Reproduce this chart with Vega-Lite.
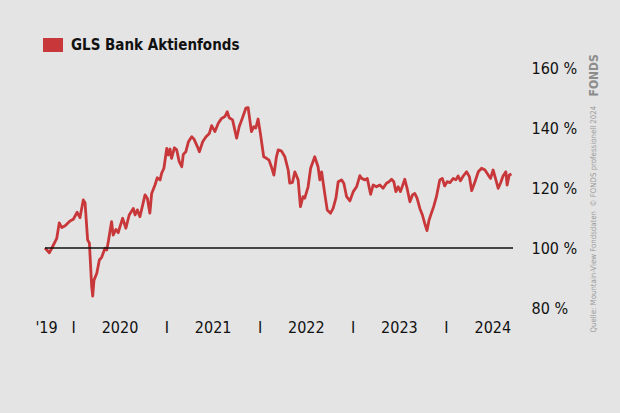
{
  "$schema": "https://vega.github.io/schema/vega-lite/v6.json",
  "width": 468,
  "height": 240,
  "autosize": "none",
  "padding": {"left": 45, "top": 68, "right": 107, "bottom": 105},
  "background": "#e4e4e4",
  "config": {"view": {"stroke": null}, "font": "DejaVu Sans Condensed, Roboto, sans-serif"},
  "layer": [
    {
      "data": {"values": [
        {"d": "2019-09-13", "v": 100}, {"d": "2019-09-30", "v": 98.4}, {"d": "2019-10-16", "v": 101}, {"d": "2019-10-29", "v": 103.2},
        {"d": "2019-11-08", "v": 108.4}, {"d": "2019-11-18", "v": 106.8}, {"d": "2019-12-01", "v": 107.4}, {"d": "2019-12-20", "v": 109},
        {"d": "2020-01-02", "v": 109.6}, {"d": "2020-01-17", "v": 111.9}, {"d": "2020-01-28", "v": 110.1}, {"d": "2020-02-10", "v": 116},
        {"d": "2020-02-17", "v": 115.1}, {"d": "2020-02-27", "v": 102.7}, {"d": "2020-03-05", "v": 101.6}, {"d": "2020-03-14", "v": 87.1},
        {"d": "2020-03-18", "v": 84}, {"d": "2020-03-23", "v": 89.3}, {"d": "2020-04-03", "v": 91.6}, {"d": "2020-04-13", "v": 96},
        {"d": "2020-04-22", "v": 96.9}, {"d": "2020-05-05", "v": 99.9}, {"d": "2020-05-12", "v": 99.3}, {"d": "2020-05-18", "v": 102.1},
        {"d": "2020-05-31", "v": 108.8}, {"d": "2020-06-06", "v": 104.3}, {"d": "2020-06-17", "v": 106.2}, {"d": "2020-06-26", "v": 105.1},
        {"d": "2020-07-03", "v": 107.1}, {"d": "2020-07-13", "v": 109.9}, {"d": "2020-07-26", "v": 106.6}, {"d": "2020-08-08", "v": 111},
        {"d": "2020-08-24", "v": 113.2}, {"d": "2020-08-31", "v": 111}, {"d": "2020-09-09", "v": 112.7}, {"d": "2020-09-19", "v": 110.4},
        {"d": "2020-10-09", "v": 117.7}, {"d": "2020-10-18", "v": 116.6}, {"d": "2020-10-28", "v": 111.6}, {"d": "2020-11-04", "v": 118.2},
        {"d": "2020-11-17", "v": 121}, {"d": "2020-11-26", "v": 123.4}, {"d": "2020-12-07", "v": 122.7}, {"d": "2020-12-13", "v": 124.9},
        {"d": "2020-12-22", "v": 126.6}, {"d": "2021-01-02", "v": 133.2}, {"d": "2021-01-08", "v": 131}, {"d": "2021-01-15", "v": 133},
        {"d": "2021-01-21", "v": 129.9}, {"d": "2021-02-01", "v": 133.4}, {"d": "2021-02-10", "v": 132.7}, {"d": "2021-02-20", "v": 128.8},
        {"d": "2021-03-02", "v": 127.1}, {"d": "2021-03-08", "v": 131.2}, {"d": "2021-03-18", "v": 132.1}, {"d": "2021-03-28", "v": 135.4},
        {"d": "2021-04-10", "v": 137.1}, {"d": "2021-04-19", "v": 136.3}, {"d": "2021-05-02", "v": 133.8}, {"d": "2021-05-10", "v": 132.1},
        {"d": "2021-05-23", "v": 135.4}, {"d": "2021-06-05", "v": 137.1}, {"d": "2021-06-18", "v": 138.2}, {"d": "2021-06-27", "v": 140.8},
        {"d": "2021-07-10", "v": 138.8}, {"d": "2021-07-23", "v": 141.6}, {"d": "2021-08-05", "v": 143.2}, {"d": "2021-08-18", "v": 143.8},
        {"d": "2021-08-27", "v": 145.4}, {"d": "2021-09-04", "v": 143.4}, {"d": "2021-09-17", "v": 142.7}, {"d": "2021-10-03", "v": 136.6},
        {"d": "2021-10-13", "v": 140.4}, {"d": "2021-10-26", "v": 143.4}, {"d": "2021-11-08", "v": 146.6}, {"d": "2021-11-17", "v": 146.8},
        {"d": "2021-11-30", "v": 138.8}, {"d": "2021-12-09", "v": 140.4}, {"d": "2021-12-17", "v": 140}, {"d": "2021-12-26", "v": 143},
        {"d": "2022-01-04", "v": 138.2}, {"d": "2022-01-17", "v": 130.4}, {"d": "2022-01-28", "v": 129.9}, {"d": "2022-02-07", "v": 129.3},
        {"d": "2022-02-16", "v": 127.1}, {"d": "2022-02-26", "v": 124.3}, {"d": "2022-03-08", "v": 130.4}, {"d": "2022-03-15", "v": 132.7},
        {"d": "2022-03-28", "v": 132.3}, {"d": "2022-04-10", "v": 130.4}, {"d": "2022-04-23", "v": 126}, {"d": "2022-04-29", "v": 121.6},
        {"d": "2022-05-10", "v": 121.9}, {"d": "2022-05-19", "v": 125.4}, {"d": "2022-06-01", "v": 122.7}, {"d": "2022-06-10", "v": 113.8},
        {"d": "2022-06-20", "v": 117.1}, {"d": "2022-06-27", "v": 116.6}, {"d": "2022-07-10", "v": 120.4}, {"d": "2022-07-20", "v": 126.6},
        {"d": "2022-08-05", "v": 130.4}, {"d": "2022-08-18", "v": 127.1}, {"d": "2022-08-25", "v": 122.7}, {"d": "2022-09-01", "v": 125.4},
        {"d": "2022-09-14", "v": 117.7}, {"d": "2022-09-23", "v": 112.7}, {"d": "2022-10-06", "v": 111.6}, {"d": "2022-10-16", "v": 113.2},
        {"d": "2022-10-27", "v": 116.6}, {"d": "2022-11-05", "v": 122.1}, {"d": "2022-11-18", "v": 122.7}, {"d": "2022-11-27", "v": 121.6},
        {"d": "2022-12-08", "v": 117.1}, {"d": "2022-12-21", "v": 115.7}, {"d": "2023-01-03", "v": 118.8}, {"d": "2023-01-16", "v": 120.4},
        {"d": "2023-01-29", "v": 124.1}, {"d": "2023-02-05", "v": 123.2}, {"d": "2023-02-18", "v": 122.7}, {"d": "2023-02-27", "v": 123.2},
        {"d": "2023-03-12", "v": 117.9}, {"d": "2023-03-22", "v": 121}, {"d": "2023-04-04", "v": 120.4}, {"d": "2023-04-17", "v": 121},
        {"d": "2023-04-30", "v": 119.9}, {"d": "2023-05-13", "v": 121.6}, {"d": "2023-05-23", "v": 122.1}, {"d": "2023-06-02", "v": 122.9},
        {"d": "2023-06-11", "v": 122.1}, {"d": "2023-06-19", "v": 118.8}, {"d": "2023-06-28", "v": 120.4}, {"d": "2023-07-07", "v": 118.8},
        {"d": "2023-07-24", "v": 122.9}, {"d": "2023-08-02", "v": 119.9}, {"d": "2023-08-13", "v": 115.4}, {"d": "2023-08-23", "v": 117.7},
        {"d": "2023-09-01", "v": 118.2}, {"d": "2023-09-10", "v": 116.6}, {"d": "2023-09-21", "v": 113.2}, {"d": "2023-10-01", "v": 111},
        {"d": "2023-10-10", "v": 108.2}, {"d": "2023-10-19", "v": 105.8}, {"d": "2023-10-27", "v": 109.3}, {"d": "2023-11-05", "v": 111.6},
        {"d": "2023-11-14", "v": 113.8}, {"d": "2023-11-25", "v": 117.1}, {"d": "2023-12-08", "v": 122.7}, {"d": "2023-12-18", "v": 123.2},
        {"d": "2023-12-27", "v": 120.7}, {"d": "2024-01-06", "v": 122.1}, {"d": "2024-01-17", "v": 121.8}, {"d": "2024-01-30", "v": 123.2},
        {"d": "2024-02-09", "v": 122.7}, {"d": "2024-02-18", "v": 124}, {"d": "2024-02-27", "v": 122.4}, {"d": "2024-03-09", "v": 124},
        {"d": "2024-03-22", "v": 125.4}, {"d": "2024-04-02", "v": 123.8}, {"d": "2024-04-11", "v": 119.1}, {"d": "2024-04-24", "v": 122.1},
        {"d": "2024-05-07", "v": 125.4}, {"d": "2024-05-20", "v": 126.6}, {"d": "2024-06-02", "v": 126}, {"d": "2024-06-15", "v": 124.3},
        {"d": "2024-06-24", "v": 123.2}, {"d": "2024-07-04", "v": 126}, {"d": "2024-07-15", "v": 122.7}, {"d": "2024-07-24", "v": 119.9},
        {"d": "2024-08-02", "v": 121.6}, {"d": "2024-08-12", "v": 124}, {"d": "2024-08-23", "v": 125.4}, {"d": "2024-08-28", "v": 121},
        {"d": "2024-09-05", "v": 124.3}, {"d": "2024-09-14", "v": 124.7}
      ]},
      "mark": {"type": "line", "strokeWidth": 2.8, "strokeJoin": "round"},
      "encoding": {
        "x": {
          "field": "d", "type": "temporal",
          "scale": {"domain": [{"year": 2019, "month": 9, "date": 13}, {"year": 2024, "month": 9, "date": 20}]},
          "axis": {
            "values": [
              {"year": 2019, "month": 9, "date": 17},
              {"year": 2020, "month": 1, "date": 1}, {"year": 2020, "month": 7, "date": 1},
              {"year": 2021, "month": 1, "date": 1}, {"year": 2021, "month": 7, "date": 1},
              {"year": 2022, "month": 1, "date": 1}, {"year": 2022, "month": 7, "date": 1},
              {"year": 2023, "month": 1, "date": 1}, {"year": 2023, "month": 7, "date": 1},
              {"year": 2024, "month": 1, "date": 1}, {"year": 2024, "month": 7, "date": 1}
            ],
            "labelExpr": "month(datum.value) == 0 ? 'I' : (year(datum.value) == 2019 ? \"'19\" : '' + year(datum.value))",
            "domain": false, "ticks": false, "grid": false,
            "labelFont": "DejaVu Sans Condensed, Roboto, sans-serif", "labelFontSize": 16, "labelColor": "#111111",
            "labelPadding": 11, "labelOverlap": false, "labelFlush": false, "labelBound": false,
            "title": "FONDS", "titleX": 548, "titleY": -212, "titleAngle": -90,
            "titleAlign": "left", "titleBaseline": "middle",
            "titleFont": "DejaVu Sans Condensed, Roboto, sans-serif", "titleFontWeight": "bold", "titleFontSize": 12, "titleColor": "#8c8c8c"
          }
        },
        "y": {
          "field": "v", "type": "quantitative",
          "scale": {"domain": [80, 160], "nice": false, "zero": false},
          "axis": {
            "orient": "right", "values": [80, 100, 120, 140, 160],
            "labelExpr": "datum.value + ' %'",
            "domain": false, "ticks": false, "grid": false,
            "labelAlign": "left", "labelPadding": 18,
            "labelFont": "DejaVu Sans Condensed, Roboto, sans-serif", "labelFontSize": 16, "labelColor": "#111111",
            "title": "Quelle: Mountain-View Fondsdaten\u00a0\u00a0© FONDS professionell 2024",
            "titleX": 80, "titleY": 264, "titleAngle": -90,
            "titleAlign": "left", "titleBaseline": "middle",
            "titleFont": "DejaVu Sans Condensed, Roboto, sans-serif", "titleFontWeight": "normal", "titleFontSize": 7.8, "titleColor": "#9a9a9a"
          }
        },
        "color": {
          "datum": "GLS Bank Aktienfonds",
          "scale": {"range": ["#c8373a"]},
          "legend": {
            "orient": "none", "legendX": -2, "legendY": -33, "title": null, "padding": 0,
            "symbolType": "M-1,-0.7H1V0.7H-1Z", "symbolSize": 400, "symbolStrokeWidth": 0,
            "labelFont": "DejaVu Sans Condensed, Roboto, sans-serif", "labelFontSize": 15, "labelFontWeight": "bold",
            "labelColor": "#111111", "labelOffset": 8, "labelLimit": 400,
            "encode": {"symbols": {"update": {"fill": {"value": "#c8373a"}, "stroke": {"value": "transparent"}, "opacity": {"value": 1}}}}
          }
        }
      }
    },
    {
      "data": {"values": [{}]},
      "mark": {"type": "rule", "color": "#111111", "strokeWidth": 1.5},
      "encoding": {"y": {"datum": 100}}
    }
  ]
}
